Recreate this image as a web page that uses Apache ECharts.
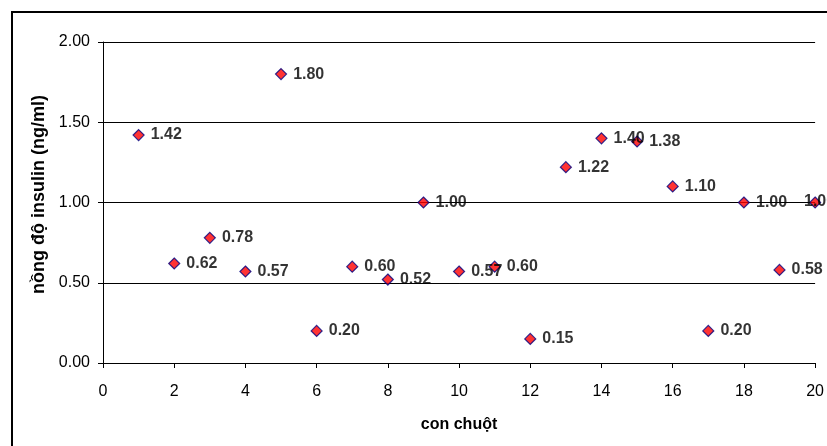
<!DOCTYPE html>
<html>
<head>
<meta charset="utf-8">
<script src="https://cdn.jsdelivr.net/npm/echarts@6/dist/echarts.min.js"></script>
<style>
  html, body { margin: 0; padding: 0; background: #fff; }
  #chart { width: 827px; height: 446px; }
</style>
</head>
<body>
<div id="chart"></div>
<script>
// số thứ tự con chuột
const mice = [1, 2, 3, 4, 5, 6, 7, 8, 9, 10, 11, 12, 13, 14, 15, 16, 17, 18, 19, 20];
// nồng độ insulin (ng/ml)
const insulin = [1.42, 0.62, 0.78, 0.57, 1.8, 0.2, 0.6, 0.52, 1.0, 0.57, 0.6, 0.15, 1.22, 1.4, 1.38, 1.1, 0.2, 1.0, 0.58, 1.0];
const xTicks = [0, 2, 4, 6, 8, 10, 12, 14, 16, 18, 20];
const yTicks = [0, 0.5, 1, 1.5, 2];

const font = "Arial, 'Liberation Sans', sans-serif";
const chart = echarts.init(document.getElementById("chart"));

const points = mice.map((m, i) => {
  const item = { value: [m, insulin[i]] };
  // nhãn cuối bị đẩy vào trong khung như Excel
  if (i === mice.length - 1) {
    item.label = { show: true, position: [-5, 5.5], verticalAlign: "middle", align: "left" };
  }
  return item;
});

const option = {
  animation: false,
  backgroundColor: "#fff",
  graphic: [
    {
      type: "rect",
      shape: { x: 12, y: 12, width: 900, height: 500 },
      style: { fill: "none", stroke: "#000", lineWidth: 2 },
      silent: true,
    },
  ],
  grid: {
    left: 103,
    right: 11,
    top: 42,
    bottom: 83,
  },
  xAxis: {
    type: "value",
    min: xTicks[0],
    max: xTicks[xTicks.length - 1],
    interval: 2,
    name: "con chuột",
    nameLocation: "middle",
    nameGap: 54,
    nameTextStyle: { fontFamily: font, fontSize: 16, fontWeight: "bold", color: "#000" },
    axisLine: { show: true, onZero: false, lineStyle: { color: "#000", width: 1 } },
    axisTick: { show: true, length: 5, lineStyle: { color: "#000" } },
    axisLabel: { fontFamily: font, fontSize: 16, color: "#000", margin: 21 },
    splitLine: { show: false },
  },
  yAxis: {
    type: "value",
    min: yTicks[0],
    max: yTicks[yTicks.length - 1],
    interval: 0.5,
    name: "nồng độ insulin (ng/ml)",
    nameLocation: "middle",
    nameGap: 45,
    nameTextStyle: {
      fontFamily: font,
      fontSize: 18,
      fontWeight: "bold",
      color: "#000",
      padding: [0, 0, 0, 16],
    },
    axisLine: { show: true, lineStyle: { color: "#000", width: 1 } },
    axisTick: { show: true, length: 5, lineStyle: { color: "#000" } },
    axisLabel: {
      fontFamily: font,
      fontSize: 16,
      color: "#000",
      margin: 13,
      formatter: (v) => v.toFixed(2),
    },
    splitLine: { show: true, lineStyle: { color: "#000", width: 1 } },
  },
  series: [
    {
      type: "scatter",
      data: points,
      clip: false,
      symbol: "diamond",
      symbolSize: 11,
      itemStyle: { color: "#ff0000", borderColor: "#000080", borderWidth: 1.2 },
      label: {
        show: true,
        position: "right",
        distance: 6,
        fontFamily: font,
        fontSize: 16,
        fontWeight: "bold",
        color: "#000",
        formatter: (p) => p.value[1].toFixed(2),
      },
      labelLayout: { hideOverlap: false },
    },
  ],
};

chart.setOption(option);
</script>
</body>
</html>
